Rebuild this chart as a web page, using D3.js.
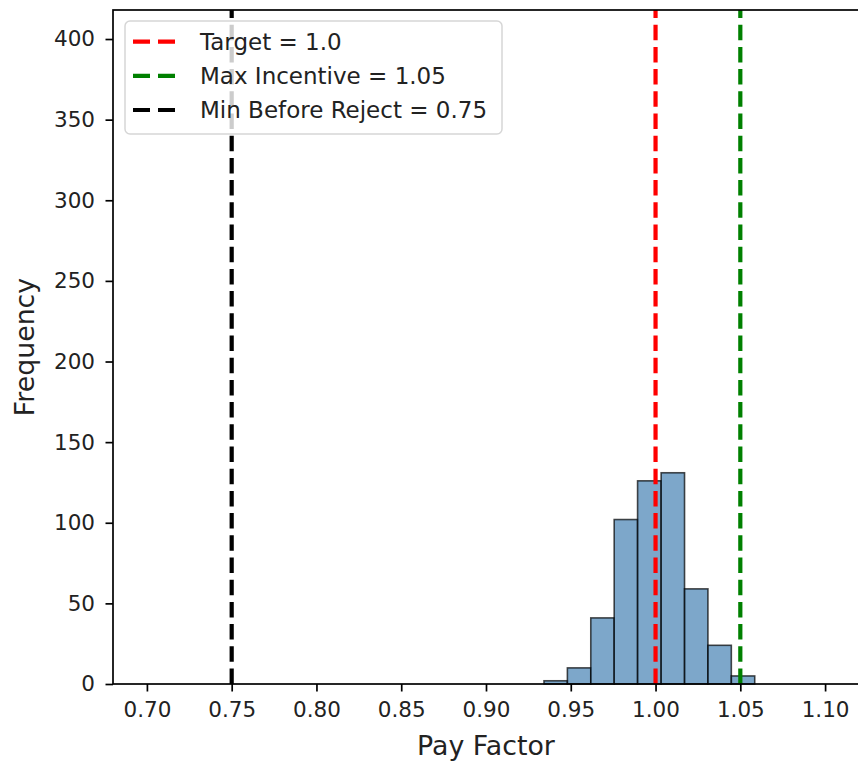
<!DOCTYPE html>
<html>
<head>
<meta charset="utf-8">
<script src="https://cdn.jsdelivr.net/npm/d3@7"></script>
<style>
  html, body { margin: 0; padding: 0; background: #fff; }
  svg { display: block; font-family: "DejaVu Sans", sans-serif; }
</style>
</head>
<body>
<svg id="chart" width="858" height="763"></svg>
<script>
// Histogram of simulated pay factors
const binEdges = [0.9342, 0.9480, 0.9618, 0.9756, 0.9894, 1.0033, 1.0171, 1.0309, 1.0447, 1.0585];
const binCounts = [2, 10, 41, 102, 126, 131, 59, 24, 5];

// Reference lines
const refLabels = ["Target = 1.0", "Max Incentive = 1.05", "Min Before Reject = 0.75"];
const refValues = [1.0, 1.05, 0.75];
const refColors = ["#ff0000", "#008000", "#000000"];

// Axis ticks
const xTicks = [0.70, 0.75, 0.80, 0.85, 0.90, 0.95, 1.00, 1.05, 1.10];
const yTicks = [0, 50, 100, 150, 200, 250, 300, 350, 400];

const xDomain = [0.68, 1.12];
const yDomain = [0, 418];

const plotLeft = 113, plotRight = 859, plotTop = 10, plotBottom = 684;
const svg = d3.select("#chart");

const x = d3.scaleLinear().domain(xDomain).range([plotLeft, plotRight]);
const y = d3.scaleLinear().domain(yDomain).range([plotBottom, plotTop]);

const bins = binCounts.map((c, i) => ({ x0: binEdges[i], x1: binEdges[i + 1], count: c }));

// Bars
svg.append("g")
  .selectAll("rect")
  .data(bins)
  .join("rect")
  .attr("x", d => x(d.x0))
  .attr("width", d => x(d.x1) - x(d.x0))
  .attr("y", d => y(d.count))
  .attr("height", d => y(0) - y(d.count))
  .attr("fill", "steelblue")
  .attr("fill-opacity", 0.7)
  .attr("stroke", "#000")
  .attr("stroke-opacity", 0.7)
  .attr("stroke-width", 1.6);

// Dashed vertical reference lines (drawn bottom to top)
const dash = "15.5,6.7";
svg.append("g")
  .selectAll("line")
  .data(refValues)
  .join("line")
  .attr("x1", d => x(d)).attr("x2", d => x(d))
  .attr("y1", plotBottom).attr("y2", plotTop)
  .attr("stroke", (d, i) => refColors[i])
  .attr("stroke-width", 4.2)
  .attr("stroke-dasharray", dash);

// Axes
const tickFont = 21.5;
const xAxis = d3.axisBottom(x).tickValues(xTicks).tickFormat(d3.format(".2f"))
  .tickSize(7.5).tickSizeOuter(0).tickPadding(10.5);
const yAxis = d3.axisLeft(y).tickValues(yTicks).tickFormat(d3.format("d"))
  .tickSize(7.5).tickSizeOuter(0).tickPadding(10.5);

const gx = svg.append("g").attr("transform", `translate(0,${plotBottom})`).call(xAxis);
const gy = svg.append("g").attr("transform", `translate(${plotLeft},0)`).call(yAxis);
[gx, gy].forEach(g => {
  g.selectAll(".domain").remove();
  g.selectAll(".tick line").attr("stroke", "#000").attr("stroke-width", 1.7);
  g.selectAll(".tick text").attr("fill", "#222").style("font-size", tickFont + "px")
    .style("font-family", "DejaVu Sans");
});

// Spines
svg.append("rect")
  .attr("x", plotLeft).attr("y", plotTop)
  .attr("width", plotRight - plotLeft).attr("height", plotBottom - plotTop)
  .attr("fill", "none").attr("stroke", "#000").attr("stroke-width", 1.7);

// Axis labels
svg.append("text")
  .attr("x", (plotLeft + plotRight) / 2).attr("y", 755)
  .attr("text-anchor", "middle")
  .style("font-size", "26.8px").attr("fill", "#222")
  .text("Pay Factor");

svg.append("text")
  .attr("transform", `translate(34,${(plotTop + plotBottom) / 2}) rotate(-90)`)
  .attr("text-anchor", "middle")
  .style("font-size", "26.8px").attr("fill", "#222")
  .text("Frequency");

// Legend
const lg = svg.append("g");
lg.append("rect")
  .attr("x", 125).attr("y", 21).attr("width", 377).attr("height", 113)
  .attr("rx", 5).attr("ry", 5)
  .attr("fill", "#fff").attr("fill-opacity", 0.8)
  .attr("stroke", "#d6d6d6").attr("stroke-width", 1.5);

const rowY = [41.7, 75.8, 110];
refLabels.forEach((lab, i) => {
  lg.append("line")
    .attr("x1", 133).attr("x2", 176.5)
    .attr("y1", rowY[i]).attr("y2", rowY[i])
    .attr("stroke", refColors[i]).attr("stroke-width", 4.2)
    .attr("stroke-dasharray", "17,8");
  lg.append("text")
    .attr("x", 200).attr("y", rowY[i])
    .attr("dy", "0.36em")
    .style("font-size", "23px").attr("fill", "#222")
    .text(lab);
});
</script>
</body>
</html>
